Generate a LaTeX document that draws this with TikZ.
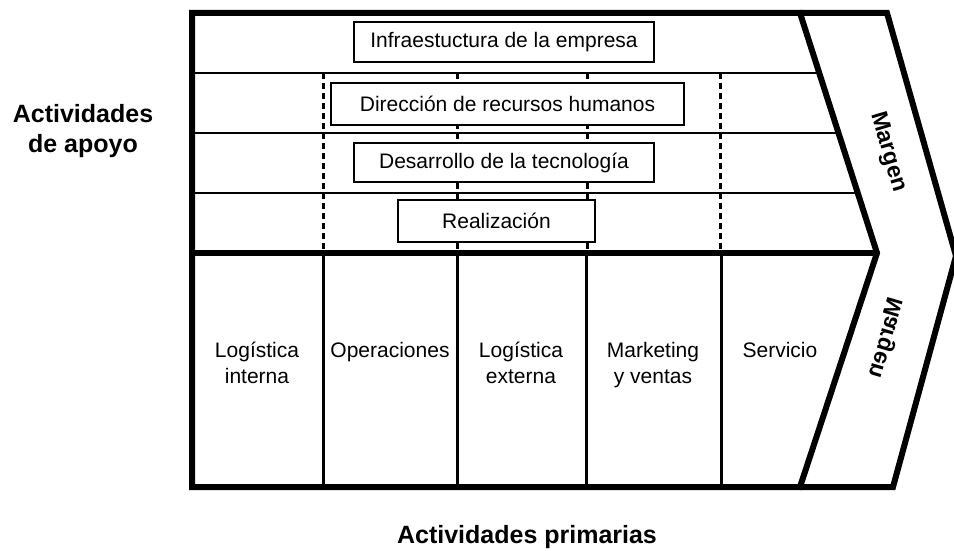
\documentclass[tikz,border=0pt]{standalone}
\usepackage{fontspec}
\setmainfont{Liberation Sans}

\tikzset{
  actbox/.style={draw, line width=1.6pt, fill=white, inner sep=0pt,
    font=\fontsize{21}{26}\selectfont},
  collbl/.style={align=center, anchor=base, font=\fontsize{21}{26}\selectfont},
  grouplbl/.style={align=center, anchor=base, font=\fontsize{25}{29}\selectfont\bfseries},
  margenlbl/.style={font=\fontsize{23}{27}\selectfont\bfseries},
  frameline/.style={line width=6pt},
}

\begin{document}
\begin{tikzpicture}[x=1pt, y=-1pt, line join=miter]
  \useasboundingbox (0,0) rectangle (954,551);
  % support activity rows
  \foreach \y in {73,133,193}
    \draw[line width=1.6pt] (192,\y) -- ({800+0.3208*(\y-13)},\y);
  \foreach \x in {323,457,587,720}
    \draw[line width=3pt, dash pattern=on 6pt off 4pt] (\x,73) -- (\x,253);
  \node[actbox, minimum width=300pt, minimum height=40pt] (infra) at (504,42) {Infraestuctura de la empresa};
  \node[actbox, minimum width=353pt, minimum height=42pt] (rrhh) at (507.5,104) {Dirección de recursos humanos};
  \node[actbox, minimum width=300pt, minimum height=39pt] (tecno) at (504,162.5) {Desarrollo de la tecnología};
  \node[actbox, minimum width=197pt, minimum height=42pt] (realiz) at (496.5,221) {Realización};
  % primary activity columns
  \foreach \x in {323,457,586,721}
    \draw[line width=3pt] (\x,253) -- (\x,487);
  \node[collbl] (login) at (257,383) {Logística\\interna};
  \node[collbl] (oper) at (390,357) {Operaciones};
  \node[collbl] (logext) at (521,383) {Logística\\externa};
  \node[collbl] (mkt) at (653,383) {Marketing\\y ventas};
  \node[collbl] (serv) at (780,357) {Servicio};
  % frame and margin arrow
  \draw[frameline] (192,253) -- (877,253);
  \draw[frameline] (877,253) -- (800,13) -- (192,13) -- (192,487) -- (800,487) -- cycle;
  \draw[frameline] (800,13) -- (887,13) -- (956,256) -- (893,487) -- (800,487);
  \node[margenlbl, rotate=-73.6] (margenup) at (888,152) {Margen};
  \node[margenlbl, xscale=-1, rotate=-73.6] (margendown) at (887,338) {Margen};
  % group labels
  \node[grouplbl] (apoyo) at (83,152) {Actividades\\de apoyo};
  \node[grouplbl] (primarias) at (527,543) {Actividades primarias};
\end{tikzpicture}
\end{document}
